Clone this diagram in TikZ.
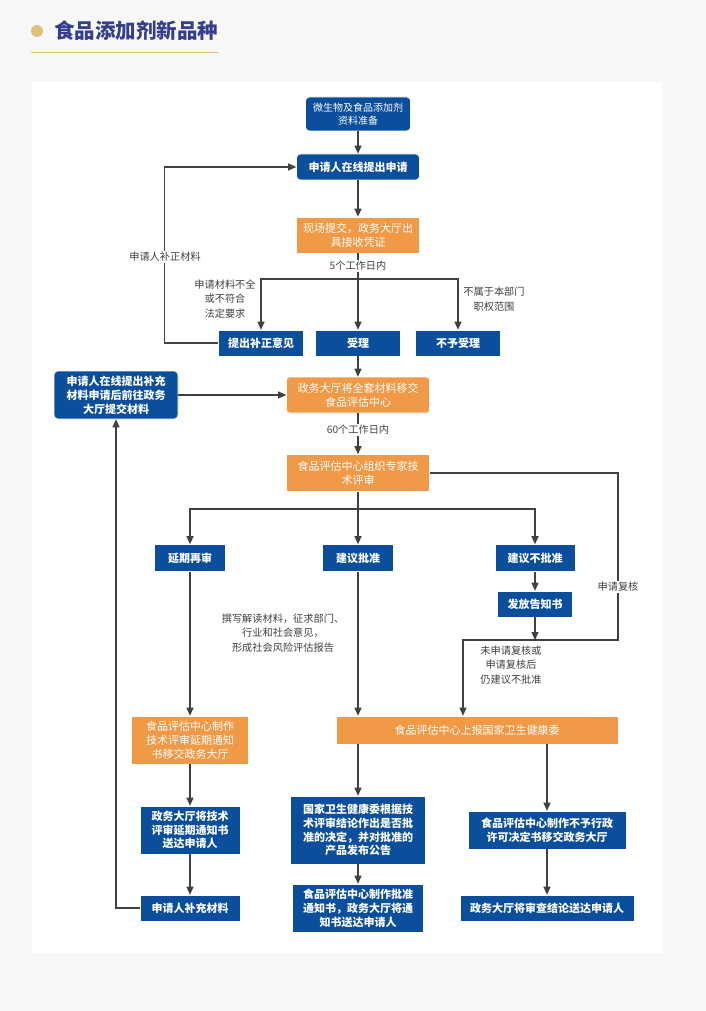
\documentclass[tikz,border=0pt]{standalone}
\usepackage{fontspec}
\setmainfont{Noto Sans CJK SC}
\usetikzlibrary{arrows.meta}
\definecolor{flowblue}{HTML}{0B4E9B}
\definecolor{floworange}{HTML}{F09A48}
\definecolor{linegray}{HTML}{404040}
\definecolor{titleblue}{HTML}{363E8C}
\definecolor{titlegold}{HTML}{E1C07A}
\definecolor{pagegray}{HTML}{F7F7F8}

\tikzset{
  box/.style={draw=white, line width=0.6pt, text=white, align=center, inner sep=2pt,
    font=\bfseries\fontsize{11}{13.8}\selectfont},
  bluebox/.style={box, fill=flowblue},
  roundbox/.style={bluebox, rounded corners=4pt},
  orangebox/.style={box, fill=floworange, font=\fontsize{11}{13.8}\selectfont},
  note/.style={text=linegray, align=center, inner sep=1pt, font=\fontsize{10.2}{14.5}\selectfont},
  flow/.style={draw=linegray, line width=1.2pt, -{Triangle[length=8pt,width=7pt]}},
}

\begin{document}
\begin{tikzpicture}[x=1pt, y=-1pt]
\useasboundingbox (0,0) rectangle (706,1011);
\fill[pagegray] (0,0) rectangle (706,1011);
\fill[white] (32,82) rectangle (662,953);

% title
\fill[titlegold] (37,31) circle (6pt);
\node[anchor=west, text=titleblue, inner sep=0pt, font=\bfseries\fontsize{20.5}{23}\selectfont] (title) at (54,31) {食品添加剂新品种};
\draw[titlegold, line width=1pt] (31,53) -- (218,53);

% nodes
\node[roundbox, minimum width=105, minimum height=34, font=\fontsize{10}{13}\selectfont] (micro) at (358,114) {微生物及食品添加剂\\资料准备};
\node[roundbox, minimum width=123, minimum height=26] (apply) at (358,167) {申请人在线提出申请};
\node[orangebox, minimum width=123, minimum height=36] (onsite) at (358,235) {现场提交，政务大厅出\\具接收凭证};
\node[bluebox, minimum width=85, minimum height=26] (fix) at (261,343) {提出补正意见};
\node[bluebox, minimum width=85, minimum height=26] (accept) at (358,343) {受理};
\node[bluebox, minimum width=85, minimum height=26] (reject) at (458,343) {不予受理};
\node[roundbox, minimum width=124, minimum height=48] (supp) at (116,395) {申请人在线提出补充\\材料申请后前往政务\\大厅提交材料};
\node[orangebox, rounded corners=3pt, minimum width=143, minimum height=36] (transfer) at (358,395) {政务大厅将全套材料移交\\食品评估中心};
\node[orangebox, minimum width=143, minimum height=37] (review) at (358,473) {食品评估中心组织专家技\\术评审};
\node[bluebox, minimum width=71, minimum height=27] (delay) at (190,558) {延期再审};
\node[bluebox, minimum width=71, minimum height=27] (approve) at (358,558) {建议批准};
\node[bluebox, minimum width=80, minimum height=27] (deny) at (535,558) {建议不批准};
\node[bluebox, minimum width=75, minimum height=26] (notice) at (535,604) {发放告知书};
\node[orangebox, minimum width=117, minimum height=48] (delaydoc) at (190,740) {食品评估中心制作\\技术评审延期通知\\书移交政务大厅};
\node[orangebox, minimum width=282, minimum height=28] (report) at (477,730) {食品评估中心上报国家卫生健康委};
\node[bluebox, minimum width=100, minimum height=48] (delaysend) at (190,830) {政务大厅将技术\\评审延期通知书\\送达申请人};
\node[bluebox, minimum width=100, minimum height=26] (resupply) at (190,908) {申请人补充材料};
\node[bluebox, minimum width=135, minimum height=68] (decide) at (358,830) {国家卫生健康委根据技\\术评审结论作出是否批\\准的决定，并对批准的\\产品发布公告};
\node[bluebox, minimum width=131, minimum height=48] (approvenote) at (358,908) {食品评估中心制作批准\\通知书，政务大厅将通\\知书送达申请人};
\node[bluebox, minimum width=158, minimum height=38] (nopermit) at (547,830) {食品评估中心制作不予行政\\许可决定书移交政务大厅};
\node[bluebox, minimum width=174, minimum height=26] (result) at (547,908) {政务大厅将审查结论送达申请人};

\coordinate (split1) at (358,279);
\coordinate (split2) at (358,509);
\coordinate (turn) at (618,640);
\coordinate (merge) at (463,640);

% connectors
\draw[flow] (micro) -- (apply);
\draw[flow] (apply) -- (onsite);
\draw[flow] (onsite) -- (accept);
\draw[flow] (split1) -| (fix);
\draw[flow] (split1) -| (reject);
\draw[flow] (fix.west) -- ++(-54,0) |- (apply.west);
\draw[flow] (accept) -- (transfer);
\draw[flow] (supp) -- (transfer);
\draw[flow] (transfer) -- (review);
\draw[flow] (review) -- (approve);
\draw[flow] (split2) -| (delay);
\draw[flow] (split2) -| (deny);
\draw[flow] (deny) -- (notice);
\draw[flow] (notice) -- (notice |- merge);
\draw[flow] (review.east) -| (turn) -- (merge) -- (merge |- report.north);
\draw[flow] (approve) -- (approve |- report.north);
\draw[flow] (delay) -- (delaydoc);
\draw[flow] (delaydoc) -- (delaysend);
\draw[flow] (delaysend) -- (resupply);
\draw[flow] (resupply.west) -| (supp.south);
\draw[flow] (report.south -| decide) -- (decide);
\draw[flow] (report.south -| nopermit) -- (nopermit);
\draw[flow] (decide) -- (approvenote);
\draw[flow] (nopermit) -- (result);

% labels
\node[note, fill=white] (days5) at (358,266) {5个工作日内};
\node[note] (incomplete) at (225,299) {申请材料不全\\或不符合\\法定要求};
\node[note] (outside) at (494,299) {不属于本部门\\职权范围};
\node[note, fill=white] (resubmit) at (165,257) {申请人补正材料};
\node[note, fill=white] (days60) at (358,430) {60个工作日内};
\node[note, fill=white] (recheck) at (618,587) {申请复核};
\node[note] (opinion) at (283,633) {撰写解读材料，征求部门、\\行业和社会意见，\\形成社会风险评估报告};
\node[note] (still) at (511,665) {未申请复核或\\申请复核后\\仍建议不批准};
\end{tikzpicture}
\end{document}
